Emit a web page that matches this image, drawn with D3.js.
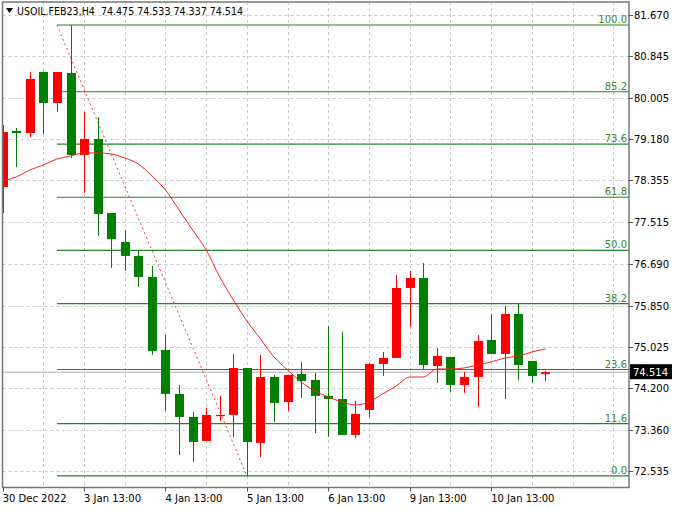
<!DOCTYPE html>
<html>
<head>
<meta charset="utf-8">
<script src="https://cdn.jsdelivr.net/npm/d3@7"></script>
<style>
  body { margin: 0; background: #fff; }
  text { font-family: "DejaVu Sans", Verdana, sans-serif; font-size: 10px; }
</style>
</head>
<body>
<div id="chart"></div>
<script>
const title = "USOIL.FEB23,H4  74.475 74.533 74.337 74.514"

// H4 bars, 30 Dec 2022 13:00 .. 10 Jan 2023
const open  = [78.225, 79.347, 79.306, 80.528, 79.907, 80.508, 78.866, 79.186, 77.704, 77.123,
               76.843, 76.422, 74.960, 74.079, 73.618, 73.137, 73.638, 73.658, 74.599, 73.097,
               74.419, 73.918, 74.479, 74.359, 74.039, 73.978, 73.257, 73.758, 74.680, 74.800,
               76.202, 76.402, 74.639, 74.820, 74.259, 74.419, 75.160, 74.880, 75.681, 74.740, 74.475]
const high  = [79.467, 79.407, 80.528, 80.540, 80.528, 81.470, 79.727, 79.627, 77.704, 77.364,
               76.943, 76.642, 75.260, 74.259, 73.718, 73.798, 74.039, 74.880, 74.599, 74.860,
               74.459, 74.459, 74.720, 74.499, 75.441, 75.320, 73.938, 74.700, 74.920, 76.462,
               76.542, 76.702, 75.000, 74.820, 74.519, 75.260, 75.681, 75.841, 75.881, 74.740, 74.533]
const low   = [77.704, 78.625, 79.226, 79.286, 79.727, 78.806, 78.105, 77.243, 76.602, 76.542,
               76.222, 74.860, 73.738, 72.857, 72.717, 73.137, 73.538, 73.217, 72.436, 72.817,
               73.518, 73.738, 73.999, 73.297, 73.217, 73.257, 73.197, 73.618, 74.439, 74.800,
               75.421, 74.579, 74.299, 74.119, 74.099, 73.818, 74.880, 73.978, 74.359, 74.299, 74.337]
const close = [79.326, 79.306, 80.388, 79.907, 80.528, 78.866, 79.186, 77.684, 77.183, 76.843,
               76.422, 74.940, 74.079, 73.618, 73.117, 73.658, 73.658, 74.599, 73.117, 74.419,
               73.898, 74.459, 74.339, 74.039, 73.978, 73.257, 73.678, 74.680, 74.800, 76.202,
               76.402, 74.659, 74.840, 74.259, 74.419, 75.140, 74.880, 75.681, 74.659, 74.439, 74.514]

// moving average (red line)
const ma = [78.345, 78.425, 78.565, 78.665, 78.785, 78.845, 78.906, 78.906, 78.886, 78.805,
            78.685, 78.445, 78.164, 77.764, 77.363, 76.962, 76.422, 75.961, 75.540, 75.180,
            74.819, 74.559, 74.318, 74.138, 74.018, 73.918, 73.858, 73.918, 74.078, 74.238,
            74.418, 74.418, 74.579, 74.579, 74.599, 74.659, 74.719, 74.799, 74.839, 74.919, 74.979]

const priceTicks = [81.670, 80.845, 80.005, 79.180, 78.355, 77.515, 76.690, 75.850, 75.025, 74.200, 73.360, 72.535]
const timeTickBars = [0, 6, 12, 18, 24, 30, 36]
const timeTickLabels = ["30 Dec 2022", "3 Jan 13:00", "4 Jan 13:00", "5 Jan 13:00", "6 Jan 13:00", "9 Jan 13:00", "10 Jan 13:00"]

// fibonacci retracement, anchored bar 4 @ high -> bar 18 @ low
const fibBars = [4, 18]
const fibPrices = [81.470, 72.436]
const fibLevels = [0.0, 11.6, 23.6, 38.2, 50.0, 61.8, 73.6, 85.2, 100.0]

const lastPrice = 74.514

const width = 677
const height = 508
const frame = ({left: 2.5, right: 629, top: 2, bottom: 487.5})

const svg = d3.select("#chart").append("svg").attr("width", width).attr("height", height);

const xscale = d3.scaleLinear()
  .domain([0, 40])
  .range([2.65, 545.45])

const yscale = d3.scaleLinear()
  .domain([72.535, 81.670])
  .range([471, 15])

svg.append("clipPath")
  .attr("id", "plot-clip")
  .append("rect")
  .attr("x", frame.left)
  .attr("y", frame.top)
  .attr("width", frame.right - frame.left)
  .attr("height", frame.bottom - frame.top)

// ============================
// Grid
// ============================

const grid = svg.append("g")
  .attr("stroke", "#c8c8c8")
  .attr("stroke-dasharray", "3,3")
  .attr("clip-path", "url(#plot-clip)")

grid.selectAll(".hgrid")
  .data(priceTicks)
  .join("line")
  .attr("class", "hgrid")
  .attr("x1", frame.left)
  .attr("x2", frame.right)
  .attr("y1", d => Math.round(yscale(d)) + 0.5)
  .attr("y2", d => Math.round(yscale(d)) + 0.5)

grid.selectAll(".vgrid")
  .data(d3.range(3, 48, 3))
  .join("line")
  .attr("class", "vgrid")
  .attr("x1", d => Math.round(xscale(d)) + 0.5)
  .attr("x2", d => Math.round(xscale(d)) + 0.5)
  .attr("y1", frame.top)
  .attr("y2", frame.bottom)

const plot = svg.append("g").attr("clip-path", "url(#plot-clip)")

// current price line
plot.append("line")
  .attr("stroke", "#c8c8c8")
  .attr("stroke-width", 1.5)
  .attr("x1", frame.left)
  .attr("x2", frame.right)
  .attr("y1", yscale(lastPrice))
  .attr("y2", yscale(lastPrice))

// ============================
// Fibonacci
// ============================

const fibY = lvl => fibPrices[1] + (fibPrices[0] - fibPrices[1]) * lvl / 100

plot.selectAll(".fib")
  .data(fibLevels)
  .join("line")
  .attr("class", "fib")
  .attr("stroke", "#268226")
  .attr("stroke-width", 1.2)
  .attr("x1", xscale(fibBars[0]))
  .attr("x2", frame.right)
  .attr("y1", d => yscale(fibY(d)))
  .attr("y2", d => yscale(fibY(d)))

plot.selectAll(".fibLabel")
  .data(fibLevels)
  .join("text")
  .attr("class", "fibLabel")
  .attr("fill", "#3a8a22")
  .attr("text-anchor", "end")
  .attr("x", frame.right - 2)
  .attr("y", d => yscale(fibY(d)) - 2)
  .text(d => d.toFixed(1))

plot.append("line")
  .attr("stroke", "#ff3030")
  .attr("stroke-dasharray", "2,3")
  .attr("x1", xscale(fibBars[0]))
  .attr("y1", yscale(fibPrices[0]))
  .attr("x2", xscale(fibBars[1]))
  .attr("y2", yscale(fibPrices[1]))

// ============================
// Candles
// ============================

const bars = open.map((o, i) => ({i: i, o: o, h: high[i], l: low[i], c: close[i]}))
const colour = d => d.c >= d.o ? "#ff0000" : "#007f00"

plot.selectAll(".wick")
  .data(bars)
  .join("line")
  .attr("class", "wick")
  .attr("stroke", colour)
  .attr("x1", d => Math.round(xscale(d.i)) + 0.5)
  .attr("x2", d => Math.round(xscale(d.i)) + 0.5)
  .attr("y1", d => yscale(d.h))
  .attr("y2", d => yscale(d.l))

plot.selectAll(".body")
  .data(bars)
  .join("rect")
  .attr("class", "body")
  .attr("fill", colour)
  .attr("x", d => Math.round(xscale(d.i)) - 4)
  .attr("width", 9)
  .attr("y", d => yscale(Math.max(d.o, d.c)))
  .attr("height", d => Math.max(1.2, Math.abs(yscale(d.o) - yscale(d.c))))

// moving average
const maLine = d3.line()
  .curve(d3.curveMonotoneX)
  .x((d, i) => xscale(i))
  .y(d => yscale(d))

plot.append("path")
  .attr("fill", "none")
  .attr("stroke", "#ff2020")
  .attr("stroke-width", 1)
  .attr("d", maLine(ma))

// ============================
// Frame and axes
// ============================

svg.append("rect")
  .attr("x", frame.left)
  .attr("y", frame.top)
  .attr("width", frame.right - frame.left)
  .attr("height", frame.bottom - frame.top)
  .attr("fill", "none")
  .attr("stroke", "#777")
  .attr("stroke-width", 1.5)

const yAxis = svg.append("g")
yAxis.selectAll("line")
  .data(priceTicks)
  .join("line")
  .attr("stroke", "#555")
  .attr("x1", frame.right)
  .attr("x2", frame.right + 4)
  .attr("y1", d => Math.round(yscale(d)) + 0.5)
  .attr("y2", d => Math.round(yscale(d)) + 0.5)
yAxis.selectAll("text")
  .data(priceTicks)
  .join("text")
  .attr("x", frame.right + 5)
  .attr("y", d => yscale(d) + 4)
  .attr("fill", "#000")
  .text(d => d.toFixed(3))

const xAxis = svg.append("g")
xAxis.selectAll("line")
  .data(timeTickBars)
  .join("line")
  .attr("stroke", "#555")
  .attr("x1", d => Math.max(frame.left, Math.round(xscale(d)) + 0.5))
  .attr("x2", d => Math.max(frame.left, Math.round(xscale(d)) + 0.5))
  .attr("y1", frame.bottom)
  .attr("y2", frame.bottom + 4)
xAxis.selectAll("text")
  .data(timeTickBars)
  .join("text")
  .attr("x", d => Math.max(frame.left, xscale(d)))
  .attr("y", 502)
  .attr("fill", "#000")
  .text((d, i) => timeTickLabels[i])

// last price label
svg.append("rect")
  .attr("x", frame.right + 1)
  .attr("y", yscale(lastPrice) - 8)
  .attr("width", 42)
  .attr("height", 15)
  .attr("fill", "#000")
svg.append("text")
  .attr("x", frame.right + 4)
  .attr("y", yscale(lastPrice) + 4)
  .attr("fill", "#fff")
  .text(lastPrice.toFixed(3))

// title
svg.append("path")
  .attr("d", "M6,8 L13,8 L9.5,13 Z")
  .attr("fill", "#000")
svg.append("text")
  .attr("x", 17)
  .attr("y", 15)
  .attr("fill", "#000")
  .attr("textLength", 226)
  .attr("lengthAdjust", "spacingAndGlyphs")
  .style("white-space", "pre")
  .style("font-size", "10.5px")
  .text(title)
</script>
</body>
</html>
